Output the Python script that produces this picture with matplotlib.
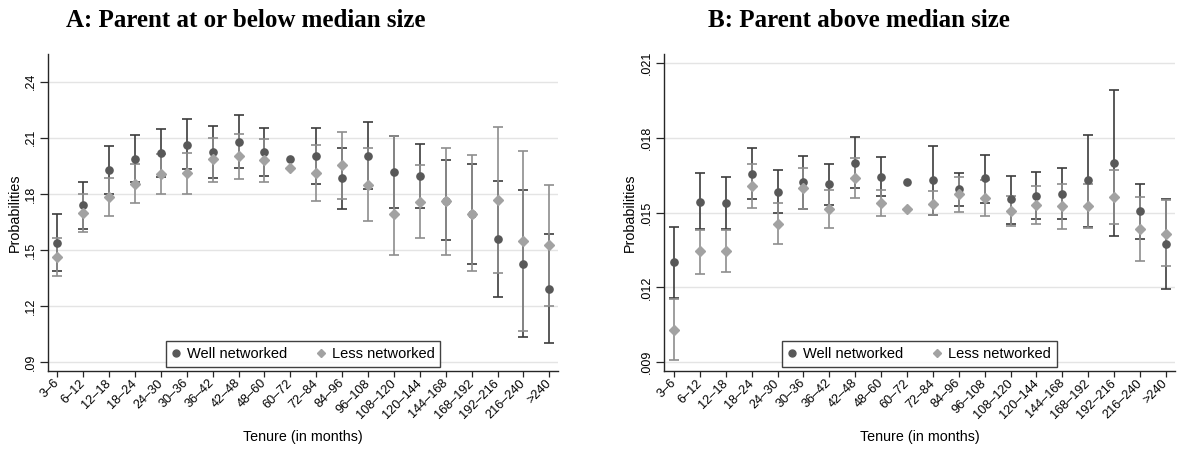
import numpy as np
import matplotlib
matplotlib.use("Agg")
import matplotlib.pyplot as plt
from matplotlib.lines import Line2D

nan = np.nan
categories = ['3–6', '6–12', '12–18', '18–24', '24–30', '30–36', '36–42', '42–48',
              '48–60', '60–72', '72–84', '84–96', '96–108', '108–120', '120–144',
              '144–168', '168–192', '192–216', '216–240', '>240']

# Panel A: Parent at or below median size
a_well = [.1539, .1739, .1929, .1989, .2018, .2064, .2025, .2079, .2025, .1987,
          .2002, .1884, .2005, .1918, .1896, .1761, .1693, .1559, .1427, .1293]
a_well_lo = [.1387, .1611, .1802, .1862, .1891, .1934, .1887, .1937, .1896, nan,
             .1852, .1721, .1825, .1725, .1727, .1552, .1427, .1250, .1037, .1002]
a_well_hi = [.1693, .1866, .2054, .2116, .2146, .2198, .2161, .2220, .2152, nan,
             .2152, .2045, .2186, .2111, .2066, .1980, .1959, .1868, .1820, .1586]
a_less = [.1461, .1700, .1784, .1855, .1905, .1911, .1984, .2002, .1980, .1941,
          .1912, .1952, .1850, .1691, .1755, .1761, .1694, .1766, .1550, .1528]
a_less_lo = [.1359, .1598, .1680, .1752, .1798, .1802, .1862, .1880, .1862, nan,
             .1764, .1775, .1653, .1471, .1562, .1475, .1386, .1375, .1069, .1203]
a_less_hi = [.1562, .1800, .1887, .1962, .2012, .2021, .2100, .2121, .2096, nan,
             .2062, .2129, .2048, .2111, .1952, .2046, .2009, .2157, .2032, .1850]

# Panel B: Parent above median size
b_well = [.01302, .01542, .01538, .01655, .01583, .01621, .01613, .01700, .01642, .01622,
          .01629, .01593, .01637, .01553, .01567, .01575, .01629, .01698, .01505, .01375]
b_well_lo = [.01156, .01435, .01434, .01555, .01498, .01514, .01531, .01597, .01565, nan,
             .01489, .01525, .01539, .01453, .01474, .01473, .01440, .01407, .01394, .01195]
b_well_hi = [.01443, .01657, .01642, .01757, .01670, .01726, .01695, .01804, .01722, nan,
             .01766, .01658, .01732, .01647, .01662, .01678, .01812, .01989, .01614, .01554]
b_less = [.01029, .01346, .01346, .01607, .01455, .01597, .01513, .01637, .01538, .01515,
          .01535, .01573, .01557, .01505, .01530, .01525, .01525, .01562, .01434, .01415]
b_less_lo = [.00909, .01255, .01260, .01519, .01374, .01514, .01437, .01557, .01486, nan,
             .01491, .01502, .01485, .01446, .01454, .01434, .01437, .01453, .01306, .01286]
b_less_hi = [.01152, .01429, .01430, .01695, .01538, .01678, .01591, .01717, .01591, nan,
             .01587, .01641, .01630, .01565, .01607, .01614, .01613, .01670, .01563, .01551]

a_yticks = [.09, .12, .15, .18, .21, .24]
b_yticks = [.009, .012, .015, .018, .021]

plt.rcParams['font.family'] = ['Liberation Sans', 'DejaVu Sans']

WELL_M = '#585858'
WELL_E = '#3c3c3c'
LESS_M = '#a2a2a2'
LESS_E = '#8e8e8e'
SPINE = '#262626'

fig = plt.figure(figsize=(11.77, 4.49), dpi=100)
W, H = 1177.0, 449.0


def make_panel(rect, xlim, ylim, yticks, fmt, well, wlo, whi, less, llo, lhi, title, title_x):
    ax = fig.add_axes(rect)
    x = np.arange(1, len(categories) + 1)
    well = np.array(well); wlo = np.array(wlo); whi = np.array(whi)
    less = np.array(less); llo = np.array(llo); lhi = np.array(lhi)
    ax.errorbar(x, well, yerr=[well - wlo, whi - well], fmt='none', ecolor=WELL_E,
                elinewidth=1.2, capsize=3.3, capthick=1.2, zorder=3)
    ax.errorbar(x, less, yerr=[less - llo, lhi - less], fmt='none', ecolor=LESS_E,
                elinewidth=1.2, capsize=3.3, capthick=1.2, zorder=3)
    ax.plot(x, well, ls='none', marker='o', ms=5.2, color=WELL_M, mec=WELL_M, zorder=4)
    ax.plot(x, less, ls='none', marker='D', ms=4.6, color=LESS_M, mec=LESS_M, zorder=5)

    ax.set_xlim(*xlim)
    ax.set_ylim(*ylim)
    ax.set_xticks(x)
    ax.set_xticklabels(categories, rotation=45, ha='right', va='center',
                       rotation_mode='anchor', fontsize=9.2)
    ax.set_yticks(yticks)
    ax.set_yticklabels([fmt.format(v).lstrip('0') for v in yticks], rotation=90,
                       va='center', fontsize=9.0)
    ax.tick_params(axis='x', direction='out', length=4, width=0.9, color=SPINE, pad=3.5)
    ax.tick_params(axis='y', direction='out', length=5.5, width=0.9, color=SPINE, pad=2.5)
    for s in ['top', 'right']:
        ax.spines[s].set_visible(False)
    for s in ['left', 'bottom']:
        ax.spines[s].set_color(SPINE)
        ax.spines[s].set_linewidth(1.0)
    ax.yaxis.grid(True, color='#e4e4e4', linewidth=1.0)
    ax.set_axisbelow(True)

    ax.set_ylabel('Probabilities', fontsize=10.3, va='center')
    ax.set_xlabel('Tenure (in months)', fontsize=10.3, va='baseline')

    handles = [Line2D([], [], ls='none', marker='o', ms=5, color=WELL_M),
               Line2D([], [], ls='none', marker='D', ms=4.4, color=LESS_M)]
    leg = ax.legend(handles, ['Well networked', 'Less networked'], loc='lower center',
                    bbox_to_anchor=(0.5, 0.0), ncol=2, fontsize=10.5, frameon=True,
                    fancybox=False, edgecolor='#111111', handlelength=0.6,
                    handletextpad=0.45, columnspacing=2.0, borderpad=0.4,
                    borderaxespad=0.3)
    leg.get_frame().set_linewidth(1.0)

    fig.text(title_x, 1 - 27 / H, title, ha='center', va='baseline',
             fontsize=18, fontweight='bold', family=['Liberation Serif', 'DejaVu Serif'])
    return ax


axA = make_panel([48 / W, 1 - 371 / H, (558 - 48) / W, (371 - 54) / H], (0.641, 20.336),
                 (0.0853, 0.2548), a_yticks, '{:.2f}',
                 a_well, a_well_lo, a_well_hi, a_less, a_less_lo, a_less_hi,
                 'A: Parent at or below median size', 245.5 / W)
axB = make_panel([664 / W, 1 - 371 / H, (1175 - 664) / W, (371 - 54) / H], (0.614, 20.35),
                 (0.00865, 0.02135), b_yticks, '{:.3f}',
                 b_well, b_well_lo, b_well_hi, b_less, b_less_lo, b_less_hi,
                 'B: Parent above median size', 859 / W)

for ax, x_px, right in [(axA, 14.5, 48), (axB, 630, 664)]:
    width_px = (558 - 48) if ax is axA else (1175 - 664)
    ax.yaxis.set_label_coords((x_px - right) / width_px, 0.5)
    ax.xaxis.set_label_coords(0.5, (371 - 441.5) / (371 - 54))

fig.savefig('out.png', dpi=100)
